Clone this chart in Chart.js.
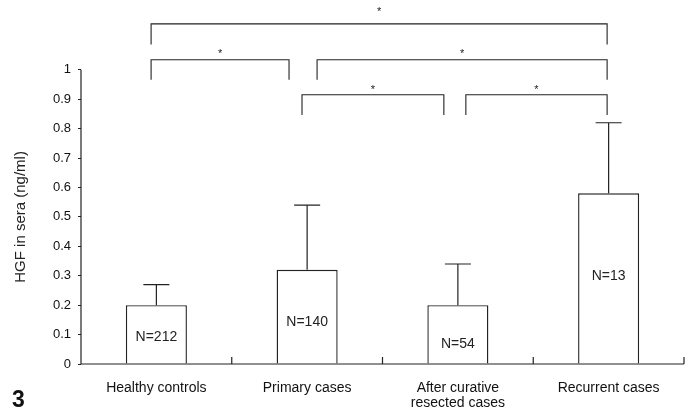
<!DOCTYPE html>
<html>
<head>
<meta charset="utf-8">
<script src="https://cdn.jsdelivr.net/npm/chart.js@4/dist/chart.umd.min.js"></script>
<style>
  html, body { margin: 0; padding: 0; background: #fff; }
  #wrap { position: relative; width: 695px; height: 414px; }
</style>
</head>
<body>
<div id="wrap"><canvas id="chart"></canvas></div>
<script>
const categories = ['Healthy controls', 'Primary cases', ['After curative', 'resected cases'], 'Recurrent cases'];
const means = [0.2, 0.32, 0.2, 0.58];
const upperErr = [0.27, 0.54, 0.34, 0.82];
const nLabels = ['N=212', 'N=140', 'N=54', 'N=13'];
const nLabelY = [0.092, 0.143, 0.068, 0.30];

// significance brackets (x in category index units, y in ng/ml)
const bracketFrom = [-0.035, -0.035, 1.066, 0.966, 2.053];
const bracketTo = [2.99, 0.88, 2.99, 1.907, 2.99];
const bracketTop = [1.156, 1.034, 1.034, 0.915, 0.915];
const bracketBottom = [1.086, 0.966, 0.966, 0.846, 0.846];
const starY = [1.204, 1.061, 1.061, 0.939, 0.939];

const FONT = "'Liberation Sans', Arial, sans-serif";
const INK = '#222';

const overlay = {
  id: 'overlay',
  afterDraw(chart) {
    const { ctx, scales: { x, y } } = chart;
    ctx.save();
    ctx.strokeStyle = INK;
    ctx.lineWidth = 1.2;

    // y axis line 0..1
    ctx.beginPath();
    ctx.moveTo(x.getPixelForValue(-0.5), y.getPixelForValue(0));
    ctx.lineTo(x.getPixelForValue(-0.5), y.getPixelForValue(1));
    ctx.stroke();

    // x axis line + upward ticks between categories
    const y0 = y.getPixelForValue(0);
    ctx.beginPath();
    ctx.moveTo(x.getPixelForValue(-0.5), y0);
    ctx.lineTo(x.getPixelForValue(3.5), y0);
    for (let i = 0; i < categories.length; i++) {
      const px = x.getPixelForValue(i + 0.5);
      ctx.moveTo(px, y0);
      ctx.lineTo(px, y0 - 7);
    }
    ctx.stroke();

    // upper error whiskers
    ctx.beginPath();
    means.forEach((m, i) => {
      const px = x.getPixelForValue(i);
      const top = y.getPixelForValue(upperErr[i]);
      ctx.moveTo(px, y.getPixelForValue(m));
      ctx.lineTo(px, top);
      ctx.moveTo(px - 13, top);
      ctx.lineTo(px + 13, top);
    });
    ctx.stroke();

    // brackets
    ctx.lineWidth = 1.1;
    ctx.beginPath();
    bracketFrom.forEach((f, i) => {
      const x1 = x.getPixelForValue(f), x2 = x.getPixelForValue(bracketTo[i]);
      const yt = y.getPixelForValue(bracketTop[i]), yb = y.getPixelForValue(bracketBottom[i]);
      ctx.moveTo(x1, yb);
      ctx.lineTo(x1, yt);
      ctx.lineTo(x2, yt);
      ctx.lineTo(x2, yb);
    });
    ctx.stroke();

    ctx.fillStyle = INK;
    ctx.textAlign = 'center';
    ctx.textBaseline = 'middle';
    ctx.font = '11px ' + FONT;
    bracketFrom.forEach((f, i) => {
      const mid = (x.getPixelForValue(f) + x.getPixelForValue(bracketTo[i])) / 2;
      ctx.fillText('*', mid, y.getPixelForValue(starY[i]) + 2);
    });

    // N labels
    ctx.font = '14px ' + FONT;
    nLabels.forEach((t, i) => {
      ctx.fillText(t, x.getPixelForValue(i), y.getPixelForValue(nLabelY[i]));
    });

    // y axis title
    ctx.save();
    ctx.translate(21, (y.getPixelForValue(0) + y.getPixelForValue(1)) / 2);
    ctx.rotate(-Math.PI / 2);
    ctx.font = '15px ' + FONT;
    ctx.fillText('HGF in sera (ng/ml)', 0, 0);
    ctx.restore();

    // figure number
    ctx.textAlign = 'left';
    ctx.textBaseline = 'alphabetic';
    ctx.font = 'bold 23px ' + FONT;
    ctx.fillStyle = '#111';
    ctx.fillText('3', 12, 407);
    ctx.restore();
  }
};

new Chart(document.getElementById('chart'), {
  type: 'bar',
  data: {
    labels: categories,
    datasets: [{
      data: means,
      backgroundColor: '#fff',
      borderColor: INK,
      borderWidth: 1.4,
      barPercentage: 0.405,
      categoryPercentage: 1
    }]
  },
  options: {
    responsive: true,
    maintainAspectRatio: false,
    animation: false,
    layout: { padding: { left: 0, right: 11, top: 0, bottom: 0 } },
    plugins: { legend: { display: false }, tooltip: { enabled: false } },
    scales: {
      x: {
        grid: { display: false, drawTicks: false },
        border: { display: false },
        ticks: {
          color: '#111',
          padding: 16,
          maxRotation: 0,
          autoSkip: false,
          font: { family: FONT, size: 14, lineHeight: 1.1 }
        },
        afterFit: s => { s.height = 50; }
      },
      y: {
        min: 0,
        max: 1.187,
        border: { display: false },
        grid: { drawOnChartArea: false, drawTicks: true, tickLength: 3, color: INK },
        ticks: {
          stepSize: 0.1,
          color: '#111',
          padding: 7,
          font: { family: FONT, size: 13 },
          callback: v => String(+v.toFixed(1))
        },
        afterBuildTicks: s => { s.ticks = s.ticks.filter(t => t.value <= 1.0001); },
        afterFit: s => { s.width = 81; }
      }
    }
  },
  plugins: [overlay]
});
</script>
</body>
</html>
